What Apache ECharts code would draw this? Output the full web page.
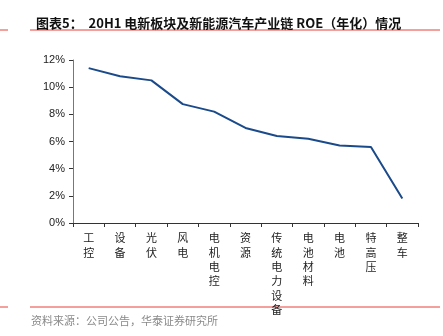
<!DOCTYPE html>
<html>
<head>
<meta charset="utf-8">
<script src="https://cdn.jsdelivr.net/npm/echarts@6/dist/echarts.min.js"></script>
<style>
  html, body { margin: 0; padding: 0; background: #fff; }
  #chart { width: 443px; height: 336px; }
</style>
</head>
<body>
<div id="chart"></div>
<script>
// Sector names (drawn vertically, one character per line)
const categories = ['工控', '设备', '光伏', '风电', '电机电控', '资源', '传统电力设备', '电池材料', '电池', '特高压', '整车'];
// Annualised ROE, %
const roeValues = [11.4, 10.8, 10.5, 8.75, 8.2, 7.0, 6.4, 6.2, 5.7, 5.6, 1.8];
const yTicks = { min: 0, max: 12, interval: 2 };

const chart = echarts.init(document.getElementById('chart'), null, { renderer: 'canvas' });
const red = '#e8413a';

chart.setOption({
  animation: false,
  title: {
    text: '图表5：  20H1 电新板块及新能源汽车产业链 ROE（年化）情况',
    left: 31, top: 12,
    textStyle: { fontSize: 13, fontWeight: 'bold', color: '#111', fontFamily: '"Noto Sans CJK SC", sans-serif' }
  },
  graphic: [
    { type: 'line', shape: { x1: 0, y1: 30, x2: 8, y2: 30 }, style: { stroke: red, lineWidth: 1 } },
    { type: 'line', shape: { x1: 30, y1: 30, x2: 440, y2: 30 }, style: { stroke: red, lineWidth: 1 } },
    { type: 'line', shape: { x1: 0, y1: 307, x2: 8, y2: 307 }, style: { stroke: red, lineWidth: 1 } },
    { type: 'line', shape: { x1: 30, y1: 307, x2: 440, y2: 307 }, style: { stroke: red, lineWidth: 1 } },
    { type: 'text', left: 31, top: 315,
      style: { text: '资料来源：公司公告，华泰证券研究所', fill: '#8a8a8a', fontSize: 11, fontFamily: '"Noto Sans CJK SC", sans-serif' } }
  ],
  grid: { left: 73, right: 25, top: 60, bottom: 113, containLabel: false },
  xAxis: {
    type: 'category',
    data: categories,
    boundaryGap: true,
    axisLine: { lineStyle: { color: '#333', width: 1 } },
    axisTick: { show: true, alignWithLabel: false, length: 4, lineStyle: { color: '#333' } },
    axisLabel: {
      interval: 0,
      margin: 8,
      color: '#222',
      fontSize: 11,
      lineHeight: 14.3,
      fontFamily: '"Noto Sans CJK SC", serif',
      formatter: v => v.split('').join('\n')
    }
  },
  yAxis: {
    type: 'value',
    min: yTicks.min, max: yTicks.max, interval: yTicks.interval,
    axisLine: { show: true, lineStyle: { color: '#777', width: 1 } },
    axisTick: { show: true, length: 4, lineStyle: { color: '#333' } },
    splitLine: { show: false },
    axisLabel: { color: '#222', fontSize: 11, margin: 8, fontFamily: 'Arial, "Liberation Sans", sans-serif', formatter: v => v + '%' }
  },
  series: [{
    type: 'line',
    data: roeValues,
    symbol: 'none',
    lineStyle: { color: '#1a4a8a', width: 2 }
  }]
});
</script>
</body>
</html>
